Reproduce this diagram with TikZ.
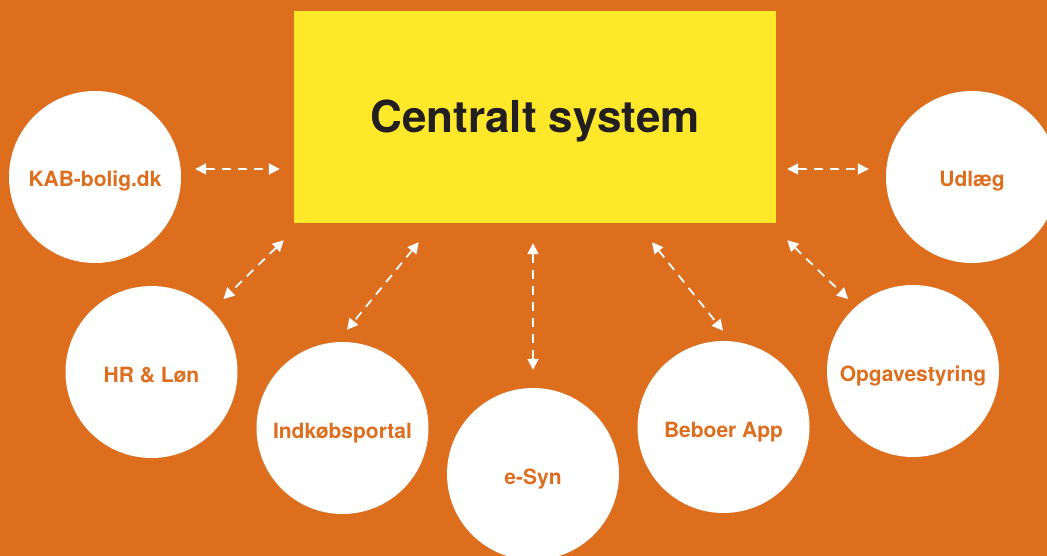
\documentclass[tikz,border=0pt]{standalone}
\usepackage{fontspec}
\setmainfont{TeX Gyre Heros}
\usetikzlibrary{arrows.meta}
\definecolor{kaborange}{HTML}{DD6E1E}
\definecolor{kabyellow}{HTML}{FFE82A}
\definecolor{kabdark}{HTML}{231F20}
\tikzset{
  core/.style={rectangle, fill=kabyellow, minimum width=482pt, minimum height=212pt,
    inner sep=0pt, text height=31.7pt, text depth=0pt, text=kabdark,
    font=\bfseries\fontsize{44}{50}\selectfont},
  bubble/.style={circle, fill=white, minimum size=172pt, inner sep=0pt,
    text height=20pt, text depth=0pt,
    text=kaborange, font=\bfseries\fontsize{21}{25}\selectfont},
  link/.style={draw=white, line width=1.8pt, dash pattern=on 9pt off 7pt,
    {Triangle[length=11pt,width=11pt,fill=white]}-{Triangle[length=11pt,width=11pt,fill=white]}}
}
\begin{document}
\begin{tikzpicture}[x=1pt, y=-1pt]
  % canvas
  \fill[kaborange] (0,0) rectangle (1047,556);
  \useasboundingbox (0,0) rectangle (1047,556);
  \clip (0,0) rectangle (1047,556);

  % central system
  \node[core] (core) at (535,117) {Centralt system};

  % surrounding systems
  \node[bubble] (kab)  at (95,177)    {KAB-bolig.dk};
  \node[bubble] (udl)  at (972,177)   {Udlæg};
  \node[bubble] (hr)   at (151.5,372) {HR \& Løn};
  \node[bubble] (ind)  at (342.5,428) {Indkøbsportal};
  \node[bubble] (esyn) at (533,474)   {e-Syn};
  \node[bubble] (beb)  at (723.5,427) {Beboer App};
  \node[bubble] (opg)  at (913,371)   {Opgavestyring};

  % two-way links
  \draw[link] ([shift={(14,-8)}]kab.east) -- ([shift={(-14,52)}]core.west);
  \draw[link] ([shift={(11,52)}]core.east) -- ([shift={(-17,-8)}]udl.west);
  \draw[link] ([shift={(-10,17)}]core.south west) -- ([shift={(11,-12)}]hr.north east);
  \draw[link] ([shift={(125,19)}]core.south west) -- ([shift={(4.5,-12)}]ind.north);
  \draw[link] ([shift={(-2,20)}]core.south) -- ([shift={(0,-18)}]esyn.north);
  \draw[link] ([shift={(117,19)}]core.south) -- ([shift={(-0.5,-10)}]beb.north);
  \draw[link] ([shift={(11,17)}]core.south east) -- ([shift={(-4,-11)}]opg.north west);
\end{tikzpicture}
\end{document}
